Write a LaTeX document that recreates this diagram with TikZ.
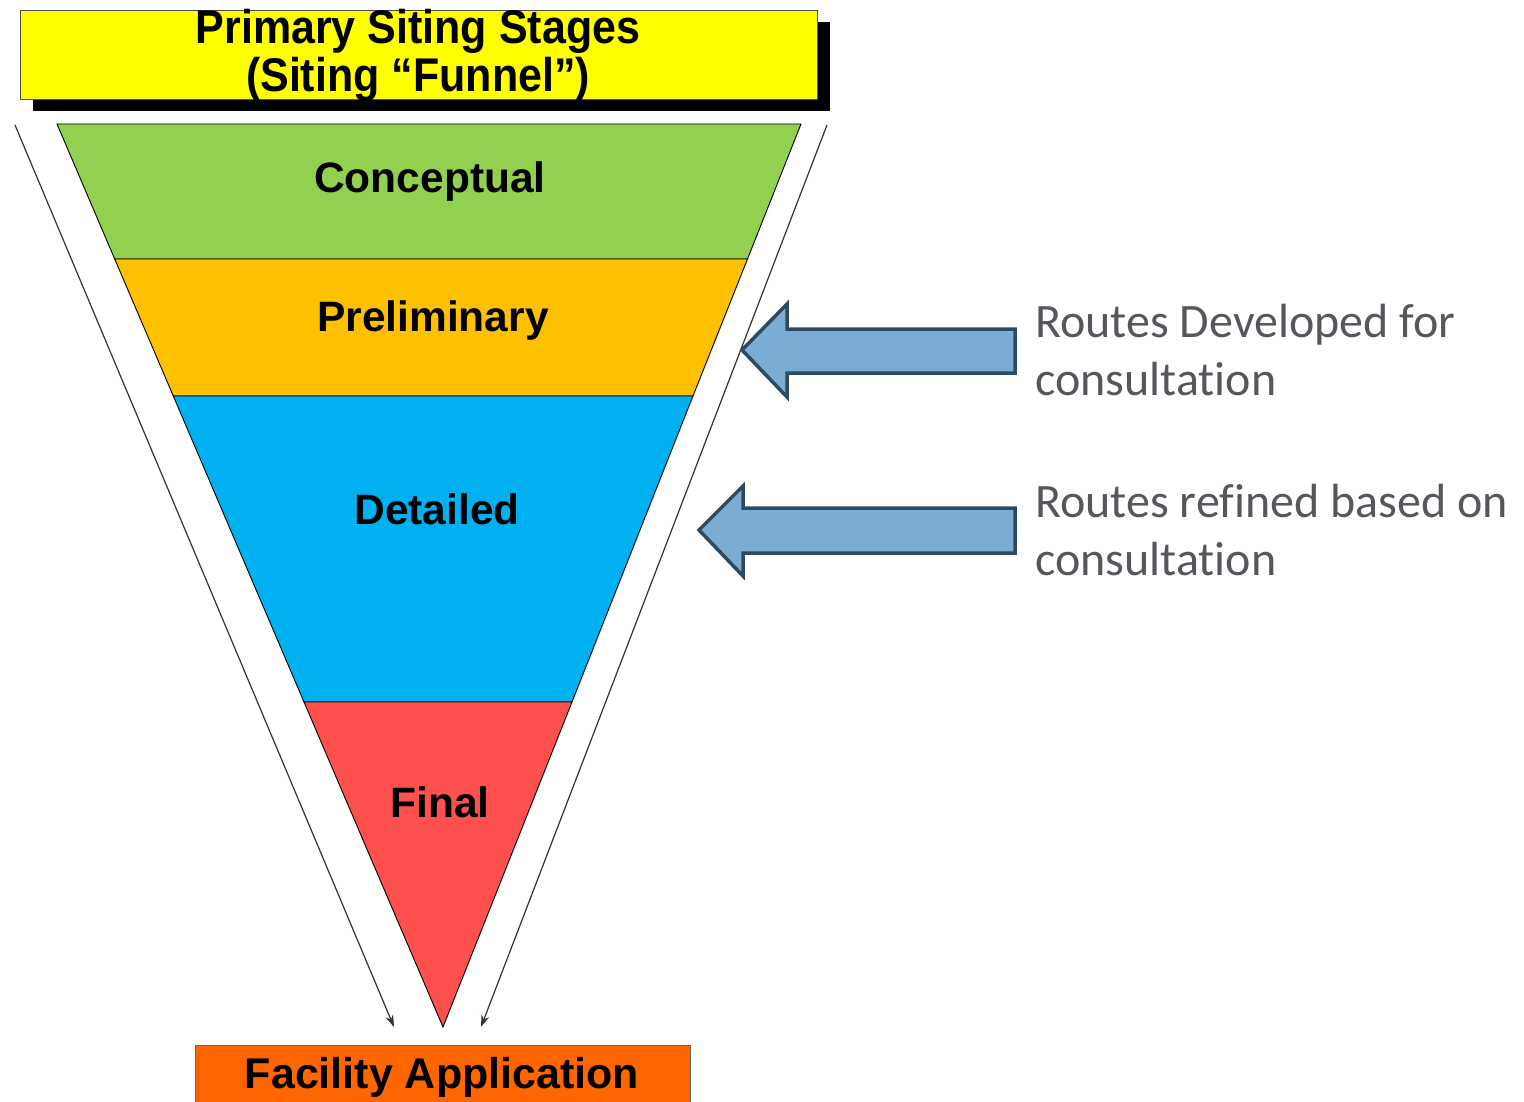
\documentclass[tikz,border=0pt]{standalone}
\usepackage{fontspec}
\setmainfont{Liberation Sans}
\newfontfamily\calib[RawFeature=-liga]{Carlito}
\usetikzlibrary{arrows.meta}
\definecolor{ttlyellow}{HTML}{FFFF00}
\definecolor{stgreen}{HTML}{92D050}
\definecolor{storange}{HTML}{FFC000}
\definecolor{stblue}{HTML}{00B0F0}
\definecolor{stred}{HTML}{FF5050}
\definecolor{appor}{HTML}{FF6600}
\definecolor{arfill}{HTML}{7BACD3}
\definecolor{ardraw}{HTML}{2F4A5F}
\definecolor{notegray}{HTML}{55575D}
\tikzset{
  stage/.style={draw=black, line width=0.9pt},
  stagelbl/.style={font=\bfseries\fontsize{42.5}{48}\selectfont, anchor=base, inner sep=0pt},
  ttl/.style={font=\bfseries\fontsize{43}{47}\selectfont, anchor=base, inner sep=0pt},
  flow/.style={draw=black!80, line width=1.2pt, -{Stealth[length=12pt,width=8pt]}},
  blockarrow/.style={fill=arfill, draw=ardraw, line width=3.5pt, line join=miter},
  note/.style={font=\calib\fontsize{48}{58}\selectfont, text=notegray, align=left, anchor=west, inner sep=0pt},
}
\begin{document}
\begin{tikzpicture}[x=1pt,y=-1pt]
\useasboundingbox (0,0) rectangle (1524,1102);
% title
\fill[black] (33,22) rectangle (830,111);
\draw[fill=ttlyellow, draw=black!70, line width=0.8pt] (20,10) rectangle (817,99);
\node[ttl] (tt1) at (418,44) {\scalebox{1}[1.1]{Primary Siting Stages}};
\node[ttl] (tt2) at (418,92) {\scalebox{1}[1.1]{(Siting “Funnel”)}};
% funnel stages
\filldraw[stage, fill=stgreen] (57,124) -- (801,124) -- (747.5,259) -- (114.7,259) -- cycle;
\filldraw[stage, fill=storange] (114.7,259) -- (747.5,259) -- (693,396) -- (173.3,396) -- cycle;
\filldraw[stage, fill=stblue] (173.3,396) -- (693,396) -- (572,702) -- (304,702) -- cycle;
\filldraw[stage, fill=stred] (304,702) -- (572,702) -- (443,1027) -- cycle;
\node[stagelbl] (conc) at (430,193) {Conceptual};
\node[stagelbl] (prel) at (433,331) {Preliminary};
\node[stagelbl] (deta) at (437,524) {Detailed};
\node[stagelbl] (fina) at (440,817) {Final};
% outer flow lines
\coordinate (ls) at (15,125);
\coordinate (le) at (394,1027);
\coordinate (rs) at (827,125);
\coordinate (re) at (481,1027);
\draw[flow] (ls) -- (le);
\draw[flow] (rs) -- (re);
% application box
\draw[fill=appor, draw=black!60, line width=0.8pt] (195,1045) rectangle (690,1115);
\node[stagelbl, font=\bfseries\fontsize{43}{48}\selectfont] (app) at (442,1088) {Facility Application};
% block arrows
\filldraw[blockarrow] (1015,329) -- (787,329) -- (787,304) -- (742,350) -- (787,397) -- (787,373) -- (1015,373) -- cycle;
\filldraw[blockarrow] (1015,508) -- (743,508) -- (743,486) -- (699,530) -- (743,576) -- (743,553) -- (1015,553) -- cycle;
% notes
\node[note] (n1) at (1035,350) {Routes Developed for\\consultation};
\node[note] (n2) at (1035,530) {Routes refined based on\\consultation};
\end{tikzpicture}
\end{document}
